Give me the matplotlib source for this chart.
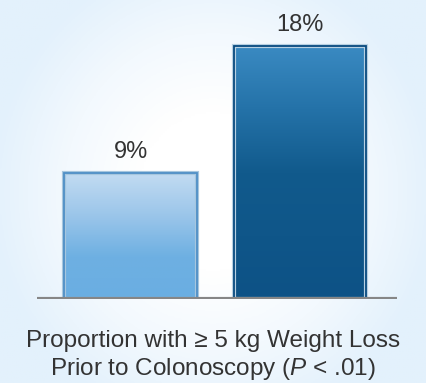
import numpy as np
import matplotlib
matplotlib.use("Agg")
import matplotlib.pyplot as plt
from matplotlib.colors import LinearSegmentedColormap
from matplotlib.patches import Rectangle

plt.rcParams['font.family'] = ['Liberation Sans', 'DejaVu Sans']
plt.rcParams['mathtext.fontset'] = 'custom'
plt.rcParams['mathtext.it'] = 'Liberation Sans:italic'
plt.rcParams['mathtext.rm'] = 'Liberation Sans'

categories = ["Group A", "Group B"]
values = [9, 18]
labels = ["9%", "18%"]
caption = "Proportion with \u2265 5 kg Weight Loss\nPrior to Colonoscopy ($\\mathit{P}$ < .01)"

fig = plt.figure(figsize=(4.26, 3.83), dpi=100)

# background radial gradient
bg = fig.add_axes([0, 0, 1, 1], zorder=0)
yy, xx = np.mgrid[-1:1:200j, -1:1:200j]
r = np.clip(np.sqrt((xx / 1.05) ** 2 + (yy / 1.25) ** 2), 0, 1)
bg_cmap = LinearSegmentedColormap.from_list("bg", ["#ffffff", "#ffffff", "#f3f9fe", "#e3f1fc"])
bg.imshow(r, cmap=bg_cmap, vmin=0, vmax=1, aspect='auto', extent=[0, 1, 0, 1])
bg.axis('off')

ax = fig.add_axes([37 / 426, (383 - 299) / 383, 360 / 426, 281 / 383], zorder=1)
ax.patch.set_alpha(0)
ax.set_xlim(-0.552, 1.572)
ax.set_ylim(0, 20)
ax.axis('off')

width = 0.78
cmaps = [
    LinearSegmentedColormap.from_list("light", ["#c3dcf2", "#9cc6ea", "#6eb0e2", "#6aaee2"]),
    LinearSegmentedColormap.from_list("dark", ["#3a8ac2", "#2472a8", "#115a8c", "#0f5689", "#0d5286"]),
]
edges = ["#4f8fc6", "#07497f"]
halos = ["#a6c6de", "#b7d0e2"]

for i, v in enumerate(values):
    x0 = i - width / 2
    grad = np.linspace(0, 1, 256).reshape(-1, 1)
    ax.imshow(grad, cmap=cmaps[i], aspect='auto', extent=[x0, x0 + width, 0, v],
              origin='upper', zorder=2)
    ax.add_patch(Rectangle((x0, 0), width, v, fill=False, edgecolor=halos[i], lw=3.0, zorder=2.5))
    ax.add_patch(Rectangle((x0, 0), width, v, fill=False, edgecolor=edges[i], lw=1.3, zorder=3))
    ax.text(i, v + 0.7, labels[i], ha='center', va='bottom', fontsize=17, color='#333333')

ax.axhline(0, color='#868686', lw=3.0, zorder=4, solid_capstyle='butt')

fig.text(0.5, 1 - 356 / 383, caption, ha='center', va='center', fontsize=17.5,
         color='#333333', linespacing=1.22)

fig.savefig("out.png", dpi=100)
